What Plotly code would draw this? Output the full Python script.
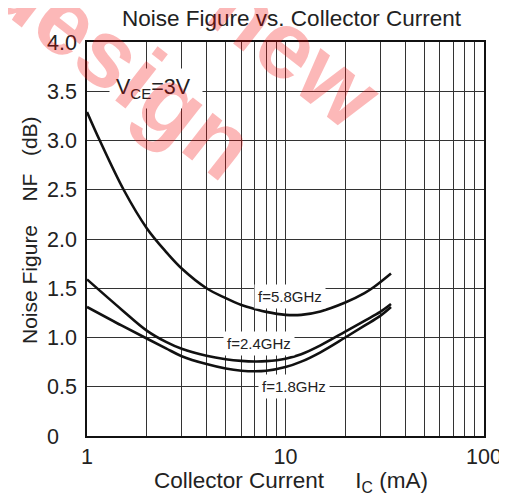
import numpy as np
import plotly.graph_objects as go

# collector current (mA) and noise figure (dB)
ic_58 = [1, 1.16, 1.53, 2, 2.5, 3, 4, 5, 6, 7, 8, 10, 12, 15, 20, 25, 28, 34]
nf_58 = [3.29, 3.0, 2.5, 2.11, 1.87, 1.70, 1.50, 1.40, 1.33, 1.29, 1.26, 1.23, 1.23, 1.265, 1.355, 1.45, 1.515, 1.65]

ic_24 = [1, 1.5, 2, 2.5, 3, 4, 5, 6, 7, 8, 10, 12, 15, 20, 25, 30, 34]
nf_24 = [1.59, 1.28, 1.07, 0.955, 0.885, 0.815, 0.78, 0.763, 0.757, 0.76, 0.785, 0.83, 0.92, 1.06, 1.17, 1.26, 1.34]

ic_18 = [1, 1.5, 2, 2.5, 3, 4, 5, 6, 7, 8, 10, 12, 15, 20, 25, 30, 34]
nf_18 = [1.31, 1.12, 0.99, 0.89, 0.81, 0.73, 0.685, 0.663, 0.657, 0.662, 0.70, 0.755, 0.85, 1.0, 1.12, 1.22, 1.31]

x_ticks = [1, 2, 3, 4, 5, 6, 7, 8, 9, 10, 20, 30, 40, 50, 60, 70, 80, 90, 100]
x_labels = ["1", "", "", "", "", "", "", "", "", "10", "", "", "", "", "", "", "", "", "100"]
y_ticks = [0, 0.5, 1.0, 1.5, 2.0, 2.5, 3.0, 3.5, 4.0]
y_labels = ["0\u00a0\u00a0\u00a0", "0.5", "1.0", "1.5", "2.0", "2.5", "3.0", "3.5", "4.0"]

FONT = "Arial, Liberation Sans, sans-serif"
OFF = 8  # page body margin the browser adds around the plot div

fig = go.Figure()
for xs, ys in [(ic_58, nf_58), (ic_24, nf_24), (ic_18, nf_18)]:
    fig.add_trace(go.Scatter(x=xs, y=ys, mode="lines", line=dict(color="#111", width=2.6, shape="spline", smoothing=1.0),
                             showlegend=False, hoverinfo="skip"))

# curve labels (white boxes cut the grid like in the datasheet)
labels = [
    ("f=5.8GHz", np.log10(10.5), 1.42),
    ("f=2.4GHz", np.log10(7.35), 0.944),
    ("f=1.8GHz", np.log10(11.0), 0.50),
]
for txt, lx, ly in labels:
    fig.add_annotation(x=lx, y=ly, text=txt, showarrow=False, bgcolor="white", borderpad=3,
                       xanchor="center", yanchor="middle",
                       font=dict(family=FONT, size=15, color="#222"))

fig.add_annotation(x=0.35, y=3.53, text="V<sub>CE</sub>=3V\u00a0", showarrow=False, bgcolor="white", borderpad=6,
                   xanchor="center", yanchor="middle",
                   font=dict(family=FONT, size=21.5, color="#222"))


def px(x, y):
    # reference pixel -> paper coords of the plot area (87..484, 42..436)
    return (x - 87) / 397, (436 - y) / 394


# axis titles
tx, ty = px(291, 482)
fig.add_annotation(xref="paper", yref="paper", x=tx, y=ty, xanchor="center", yanchor="middle",
                   text="Collector Current\u00a0\u00a0\u00a0\u00a0\u00a0I<sub>C</sub> (mA)", showarrow=False,
                   font=dict(family=FONT, size=22.5, color="#222"))
tx, ty = px(29, 230)
fig.add_annotation(xref="paper", yref="paper", x=tx, y=ty, xanchor="center", yanchor="middle", textangle=-90,
                   text="Noise Figure\u00a0\u00a0\u00a0\u00a0NF\u00a0\u00a0\u00a0(dB)", showarrow=False,
                   font=dict(family=FONT, size=21, color="#222"))

# red watermark
wm = dict(family="Arial Black, Liberation Sans, sans-serif", size=95, color="rgba(245,0,0,0.28)")
tx, ty = px(122, 64)
fig.add_annotation(xref="paper", yref="paper", x=tx, y=ty, xanchor="center", yanchor="middle",
                   text="<b>design</b>", textangle=38, showarrow=False, font=wm)
tx, ty = px(163, -53)
fig.add_annotation(xref="paper", yref="paper", x=tx, y=ty, xanchor="center", yanchor="middle",
                   text="<b>Not for new</b>", textangle=38, showarrow=False, font=wm)

fig.update_xaxes(type="log", range=[0, 2], tickvals=x_ticks, ticktext=x_labels, ticks="",
                 showgrid=True, gridcolor="#333", gridwidth=1, zeroline=False,
                 showline=True, linecolor="#111", linewidth=1.5, mirror=True,
                 tickfont=dict(family=FONT, size=21.5, color="#222"), ticklabelstandoff=0)
fig.update_yaxes(range=[0, 4], tickvals=y_ticks, ticktext=y_labels, ticks="",
                 showgrid=True, gridcolor="#333", gridwidth=1, zeroline=False,
                 showline=True, linecolor="#111", linewidth=1.5, mirror=True,
                 tickfont=dict(family=FONT, size=21.5, color="#222"), ticklabelstandoff=4)

fig.update_layout(
    width=507, height=497,
    margin=dict(l=87 - OFF, r=23 + OFF, t=42 - OFF, b=61 + OFF),
    paper_bgcolor="white", plot_bgcolor="white",
    title=dict(text="Noise Figure vs. Collector Current", x=(291.5 - OFF) / 507, xanchor="center",
               y=1 - (18 - OFF) / 497, yanchor="middle",
               font=dict(family=FONT, size=22.5, color="#222")),
)

fig.write_html("out.html")
